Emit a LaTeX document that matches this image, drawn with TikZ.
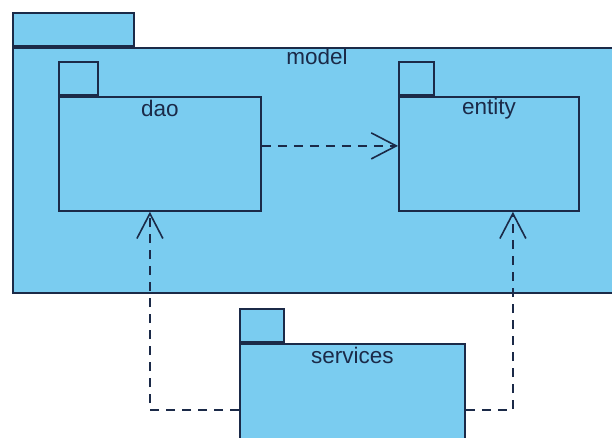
\documentclass[tikz,border=0pt]{standalone}
\usepackage{fontspec}
\setmainfont{Liberation Sans}
\usetikzlibrary{positioning,arrows.meta}
\definecolor{PkgFill}{HTML}{7ACCF0}
\definecolor{PkgLine}{HTML}{1B2A48}
\tikzset{
  package body/.style={draw=PkgLine,line width=1.8pt,fill=PkgFill,anchor=north west,
    inner sep=0pt},
  package tab/.style={draw=PkgLine,line width=1.8pt,fill=PkgFill,inner sep=0pt,
    minimum height=33pt},
  package name/.style={anchor=base,inner sep=0pt,text=PkgLine,
    font=\fontsize{22.5}{26}\selectfont},
  depend arrow/.style={-{Straight Barb[length=25pt,width=26pt]},line width=1.6pt,
    draw=PkgLine,dash pattern=on 9pt off 7pt}
}

\begin{document}
\begin{tikzpicture}[x=1pt,y=-1pt]
  \clip[use as bounding box] (0,0) rectangle (612,438);
  % outer package
  \node[package body,minimum width=608pt,minimum height=245pt] (model) at (12,47) {};
  \node[package tab,minimum width=121pt,above right=0pt and 0pt of model.north west] (model tab) {};
  \node[package name] (model name) at ([yshift=-18pt]model.north) {model};
  % inner packages
  \node[package body,minimum width=202pt,minimum height=114pt] (dao) at (58,96) {};
  \node[package tab,minimum width=39pt,above right=0pt and 0pt of dao.north west] (dao tab) {};
  \node[package name] (dao name) at ([yshift=-21pt]dao.north) {dao};
  \node[package body,minimum width=180pt,minimum height=114pt] (entity) at (398,96) {};
  \node[package tab,minimum width=35pt,above right=0pt and 0pt of entity.north west] (entity tab) {};
  \node[package name] (entity name) at ([yshift=-19pt]entity.north) {entity};
  % client package
  \node[package body,minimum width=225pt,minimum height=132pt] (services) at (239,343) {};
  \node[package tab,minimum width=44pt,above right=0pt and 0pt of services.north west] (services tab) {};
  \node[package name] (services name) at ([yshift=-20pt]services.north) {services};
  % dependencies
  \draw[depend arrow] ([yshift=8pt]dao.east) -- ([yshift=8pt]entity.west);
  \draw[depend arrow] (services.west) -| ([xshift=-10pt]dao.south);
  \draw[depend arrow] (services.east) -| ([xshift=24pt]entity.south);
\end{tikzpicture}
\end{document}
